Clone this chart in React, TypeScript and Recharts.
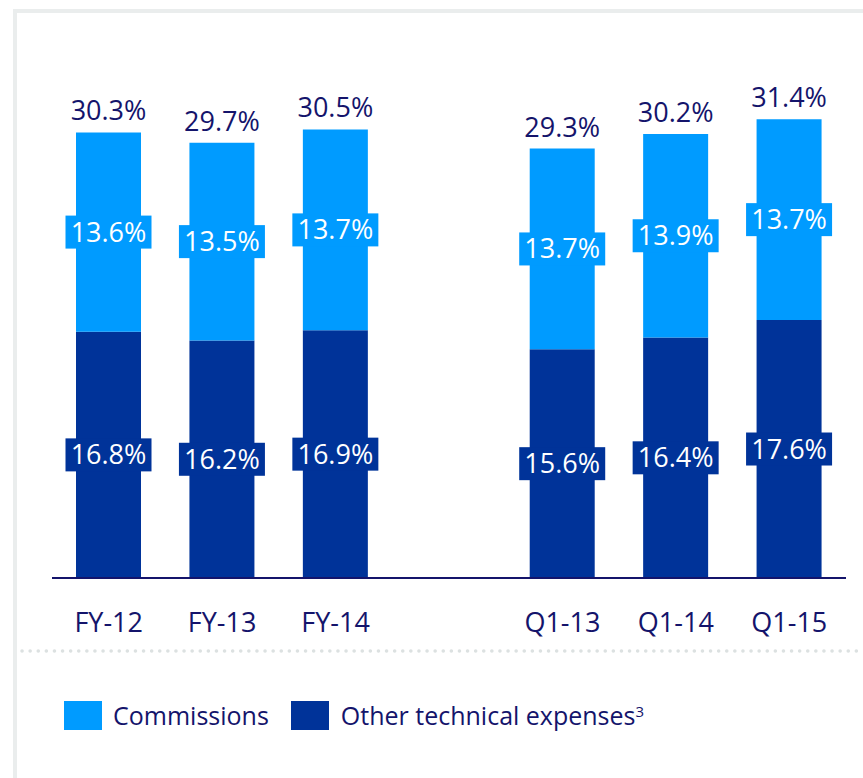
import React from 'react';
import { BarChart, Bar, XAxis, YAxis, LabelList } from 'recharts';

const categories = ['FY-12', 'FY-13', 'FY-14', '', 'Q1-13', 'Q1-14', 'Q1-15'];
const otherExpenses: (number | null)[] = [16.8, 16.2, 16.9, null, 15.6, 16.4, 17.6];
const commissions: (number | null)[] = [13.6, 13.5, 13.7, null, 13.7, 13.9, 13.7];
const totals: (number | null)[] = [30.3, 29.7, 30.5, null, 29.3, 30.2, 31.4];

const LIGHT = '#009BFF';
const DARK = '#003399';
const NAVY = '#14146B';
const FONT = '"Open Sans", sans-serif';

const data = categories.map((c, i) => ({
  name: c,
  other: otherExpenses[i],
  comm: commissions[i],
  total: totals[i],
}));

const fmt = (v: number) => `${v.toFixed(1)}%`;

const makeBoxLabel = (color: string) => (props: any) => {
  const { x, y, width, height, value } = props;
  if (value == null) return null;
  const cx = x + width / 2;
  const cy = y + height / 2;
  const bw = width + 21;
  const bh = 33;
  return (
    <g>
      <rect x={cx - bw / 2} y={cy - bh / 2} width={bw} height={bh} fill={color} />
      <text x={cx} y={cy + 9.5} textAnchor="middle" fill="#ffffff" fontSize={27} fontFamily={FONT}>
        {fmt(Number(value))}
      </text>
    </g>
  );
};

const TotalLabel = (props: any) => {
  const { x, y, width, value } = props;
  if (value == null) return null;
  return (
    <text x={x + width / 2} y={y - 12} textAnchor="middle" fill={NAVY} fontSize={27} fontFamily={FONT}>
      {fmt(Number(value))}
    </text>
  );
};

const Tick = (props: any) => {
  const { x, y, payload } = props;
  return (
    <text x={x} y={y + 54} textAnchor="middle" fill={NAVY} fontSize={27} fontFamily={FONT}>
      {payload.value}
    </text>
  );
};

export default function App() {
  return (
    <div style={{ position: 'absolute', left: 0, top: 0, width: 863, height: 778, background: '#fff', overflow: 'hidden', fontFamily: FONT }}>
      <div style={{ position: 'absolute', left: 13, top: 9, width: 900, height: 800, borderTop: '4px solid #EAEDED', borderLeft: '4px solid #EAEDED' }} />
      <div style={{ position: 'absolute', left: 0, top: 0 }}>
        <BarChart
          width={863}
          height={778}
          data={data}
          margin={{ top: 65, right: 17, bottom: 140, left: 52 }}
          barGap={0}
        >
          <YAxis hide domain={[0, 35]} />
          <XAxis
            dataKey="name"
            height={60}
            tickLine={false}
            tickSize={0}
            tickMargin={0}
            axisLine={{ stroke: NAVY, strokeWidth: 2 }}
            tick={<Tick />}
            interval={0}
          />
          <Bar dataKey="other" stackId="a" fill={DARK} barSize={65} isAnimationActive={false}>
            <LabelList dataKey="other" content={makeBoxLabel(DARK)} />
          </Bar>
          <Bar dataKey="comm" stackId="a" fill={LIGHT} barSize={65} isAnimationActive={false}>
            <LabelList dataKey="comm" content={makeBoxLabel(LIGHT)} />
            <LabelList dataKey="total" content={<TotalLabel />} />
          </Bar>
        </BarChart>
      </div>
      <svg style={{ position: 'absolute', left: 0, top: 0 }} width={863} height={778}>
        <line x1={22} y1={651} x2={863} y2={651} stroke="#DCE1E1" strokeWidth={3.5} strokeLinecap="round" strokeDasharray="0.1 8" />
      </svg>
      <div style={{ position: 'absolute', left: 64, top: 701, display: 'flex', alignItems: 'center', fontSize: 25, color: NAVY, lineHeight: '29px' }}>
        <span style={{ display: 'inline-block', width: 38, height: 29, background: LIGHT }} />
        <span style={{ marginLeft: 11 }}>Commissions</span>
        <span style={{ display: 'inline-block', width: 38, height: 29, background: DARK, marginLeft: 22 }} />
        <span style={{ marginLeft: 12 }}>
          Other technical expenses<sup style={{ fontSize: 15, verticalAlign: 'top', lineHeight: '20px' }}>3</sup>
        </span>
      </div>
    </div>
  );
}
